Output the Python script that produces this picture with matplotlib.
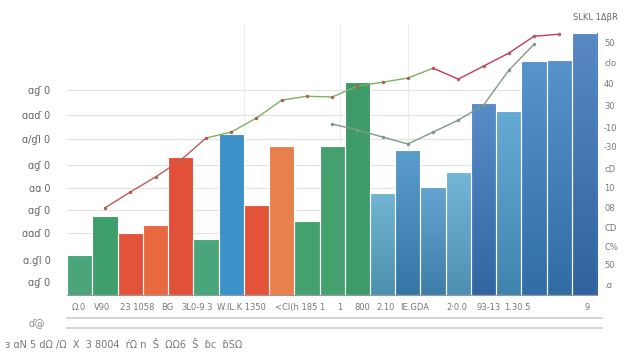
import numpy as np
import matplotlib.pyplot as plt
from matplotlib.lines import Line2D
from matplotlib.colors import LinearSegmentedColormap, to_rgb

# datos de las barras (21 categorias)
valores = [15.4, 30.4, 23.8, 26.9, 53.1, 21.5, 61.9, 34.6, 57.3, 28.5, 57.3,
           81.9, 39.2, 55.8, 41.5, 47.3, 73.8, 70.8, 90.0, 90.4, 100.8]
colores = ['#4aa57a', '#3e9e6c', '#e2533a', '#e8683f', '#e2503a', '#4aa57a',
           '#3c92c8', '#e2533a', '#e8804e', '#45a070', '#45a070', '#3f9a6a',
           '#5aa8cc', '#3d8cc4', '#4a93c8', '#5aa9d0', '#3a78c0', '#4b9ccc',
           '#3a80c4', '#3a7fc2', '#3a74bb']

# linea superior (desde la barra 2)
linea1 = [np.nan, 33.5, 39.6, 45.4, 51.9, 60.4, 62.7, 68.1, 75.0, 76.5, 76.2,
          80.4, 81.9, 83.5, 87.3, 83.1, 88.1, 93.1, 99.6, 100.4, np.nan]
color1 = ['#c65a55'] * 5 + ['#7bb35a'] * 9 + ['#c8385a'] * 6
# linea inferior (desde la barra 11)
linea2 = [np.nan] * 10 + [65.8, 63.5, 60.8, 58.1, 62.7, 67.3, 73.1, 86.5,
                          96.5, np.nan, np.nan]

ticks_izq = [5, 13.5, 23.8, 32.7, 41.2, 50, 60, 69.2, 78.8]
etiq_izq = ['ɑɠ 0', 'ɑ.ɠl 0', 'ɑɑɗ 0', 'ɑɠ 0', 'ɑɑ 0', 'ɑɠ 0', 'ɑ/ɠl 0',
            'ɑɑɗ 0', 'ɑɠ 0']
ticks_der = [3.8, 11.5, 18.5, 25.8, 33.5, 41.2, 48.8, 57, 64.6, 73, 81.5,
             89.6, 97.3]
etiq_der = ['.ɑ', '50', 'C%', 'CD', '08', '10', 'cD', '-30', '-10', '30',
            '40', 'clo', '50']

etiq_x = [(-0.02, 'Ω.0'), (0.9, 'V90'), (2.27, '23 1058'), (3.46, 'BG'),
          (4.65, '3L0-9.3'), (6.4, 'W.IL.K 1350'), (8.73, '<Cl(h 185 1'),
          (10.3, '1'), (11.2, '800'), (12.1, '2.10'), (13.25, 'IE.GDA'),
          (14.95, '2·0.0'), (16.2, '93-13'), (17.35, '1.30.5'), (20.1, '9')]

fig = plt.figure(figsize=(6.4, 3.6), dpi=100)
ax = fig.add_axes([0.105, 0.181, 0.828, 0.75])
x = np.arange(len(valores))

barras = ax.bar(x, valores, width=1.0, color=colores, linewidth=0, zorder=2)

# degradado en las barras azules
grad = np.linspace(0, 1, 100).reshape(-1, 1)
for i in range(12, len(valores)):
    c = np.array(to_rgb(colores[i]))
    claro = c + (1 - c) * 0.15
    oscuro = c * 0.85
    cm = LinearSegmentedColormap.from_list('g%d' % i, [oscuro, claro])
    b = barras[i]
    im = ax.imshow(grad, cmap=cm, origin='lower', aspect='auto', zorder=2.1,
                   extent=[b.get_x(), b.get_x() + b.get_width(), 0,
                           b.get_height()])
    im.set_clip_path(b)

# bordes blancos encima del degradado
ax.bar(x, valores, width=1.0, color='none', edgecolor='white', linewidth=0.8,
       zorder=2.2)

# linea 1 por segmentos de color
for i in range(len(x) - 1):
    ax.plot(x[i:i + 2], linea1[i:i + 2], color=color1[i], lw=1.0, zorder=3)
ax.plot(x, linea1, 'o', color='#b0605a', ms=1.5, zorder=3)
ax.plot(x, linea2, color='#7f9a86', lw=1.0, zorder=3)
ax.plot(x, linea2, 'o', color='#7f9a86', ms=1.5, zorder=3)

ax.set_xlim(-0.5, 20.5)
ax.set_ylim(0, 104)
ax.set_yticks(ticks_izq)
ax.set_yticklabels(etiq_izq, fontsize=7, color='#666666')
ax.set_xticks([])
ax.tick_params(axis='y', length=0, pad=12)
ax.grid(axis='y', color='#e2e2e2', lw=0.8, zorder=0)
for v in [6.5, 10.3, 13]:
    ax.axvline(v, color='#ececec', lw=0.7, zorder=0)
for s in ['top', 'right', 'left']:
    ax.spines[s].set_visible(False)
ax.spines['bottom'].set_color('#999999')
ax.spines['bottom'].set_linewidth(0.8)

ax2 = ax.twinx()
ax2.set_ylim(0, 104)
ax2.set_yticks(ticks_der)
ax2.set_yticklabels(etiq_der, fontsize=6, color='#777777')
ax2.tick_params(axis='y', length=0, pad=5)
for s in ax2.spines.values():
    s.set_visible(False)

for xp, t in etiq_x:
    ax.text(xp, -3, t, ha='center', va='top', fontsize=6, color='#777777')

fig.text(0.93, 0.945, 'SLKL 1ΔβR', fontsize=6, color='#666666', ha='center')
fig.text(0.008, 0.032, 'ɜ ɑN 5 dΩ /Ω  X  3 8004  ŕΩ n  Ŝ  ΩΩ6  Ŝ  ɓc  ɓSΩ',
         fontsize=7, color='#777777')
fig.text(0.045, 0.095, 'ɗ@', fontsize=7, color='#888888')

# doble linea inferior
for yy in [0.117, 0.09]:
    fig.add_artist(Line2D([0.105, 0.94], [yy, yy], color='#cccccc', lw=1.2))

fig.savefig('out.png', dpi=100)
